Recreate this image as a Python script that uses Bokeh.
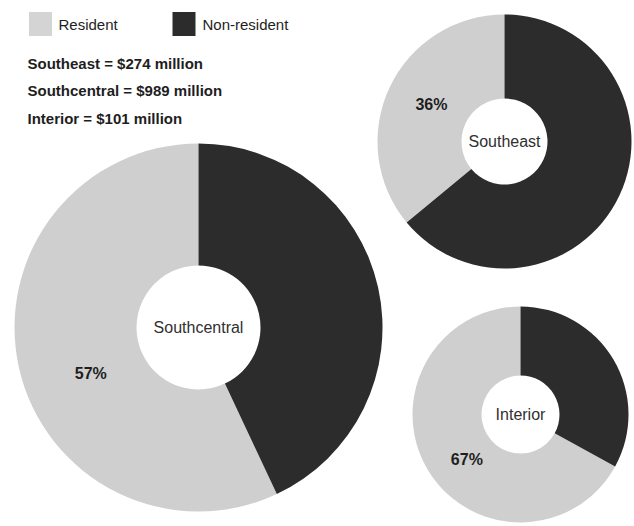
import numpy as np
from bokeh.plotting import figure
from bokeh.models import Range1d, ColumnDataSource
from bokeh.core.properties import value
from bokeh.embed import file_html
from bokeh.resources import INLINE

# ---------------- data ----------------
regions = ["Southeast", "Southcentral", "Interior"]
totals_millions = [274, 989, 101]
resident_pct = [36, 57, 67]
nonresident_pct = [64, 43, 33]
series = ["Resident", "Non-resident"]

# ---------------- layout (screen pixels, y measured downward) ----------------
W, H = 634, 526
centers_x = [504, 198, 520]
centers_y = [141, 327, 414]
outer_r = [127, 184, 108]
inner_r = [43, 62, 39]
label_angle_deg = [153, 203, 220]
label_dist = [82, 117, 70]

RES_COLOR = "#cfcfcf"
NON_COLOR = "#2c2c2c"
TEXT_COLOR = "#1e1e1e"
FONT = "Liberation Sans"

p = figure(width=W, height=H, x_range=Range1d(0, W), y_range=Range1d(0, H),
           output_backend="svg", toolbar_location=None, min_border=0,
           x_axis_location=None, y_axis_location=None)
p.xgrid.grid_line_color = None
p.ygrid.grid_line_color = None
p.outline_line_color = None
p.background_fill_color = "white"
p.border_fill_color = "white"

cx = np.array(centers_x, dtype=float)
cy = H - np.array(centers_y, dtype=float)
res = np.array(resident_pct, dtype=float) / 100.0
non = np.array(nonresident_pct, dtype=float) / 100.0
top = np.pi / 2

src = ColumnDataSource(dict(
    x=cx, y=cy, r_in=inner_r, r_out=outer_r,
    non_start=top - non * 2 * np.pi, non_end=np.full(len(regions), top),
    res_start=np.full(len(regions), top), res_end=top + res * 2 * np.pi,
    region=regions,
))

p.annular_wedge(x="x", y="y", inner_radius="r_in", outer_radius="r_out",
                start_angle="res_start", end_angle="res_end", direction="anticlock",
                fill_color=RES_COLOR, line_color=None, source=src)
p.annular_wedge(x="x", y="y", inner_radius="r_in", outer_radius="r_out",
                start_angle="non_start", end_angle="non_end", direction="anticlock",
                fill_color=NON_COLOR, line_color=None, source=src)

# center region names
p.text(x="x", y="y", text="region", source=src, text_align="center",
       text_baseline="middle", text_font=value(FONT), text_font_size="16px",
       text_color="#303030")

# resident percentage labels
ang = np.deg2rad(label_angle_deg)
lx = cx + np.array(label_dist) * np.cos(ang)
ly = cy + np.array(label_dist) * np.sin(ang)
p.text(x=lx, y=ly, text=[f"{v}%" for v in resident_pct], text_align="center",
       text_baseline="middle", text_font=value(FONT), text_font_size="16px",
       text_font_style="bold", text_color=TEXT_COLOR)

# legend
sw_x = [40, 183.5]
sw_y = H - 23.5
p.rect(x=sw_x, y=[sw_y, sw_y], width=23, height=24,
       fill_color=["#d4d4d4", NON_COLOR], line_color=None)
p.text(x=[58, 202], y=[sw_y, sw_y], text=series, text_align="left",
       text_baseline="middle", text_font=value(FONT), text_font_size="15px",
       text_color=TEXT_COLOR)

# totals
tot_lines = [f"{r} = ${t} million" for r, t in zip(regions, totals_millions)]
tot_y = [H - 62.5, H - 90, H - 117.5]
p.text(x=[27] * 3, y=tot_y, text=tot_lines, text_align="left",
       text_baseline="middle", text_font=value(FONT), text_font_size="15px",
       text_font_style="bold", text_color=TEXT_COLOR)

open("out.html", "w").write(file_html(p, INLINE))
